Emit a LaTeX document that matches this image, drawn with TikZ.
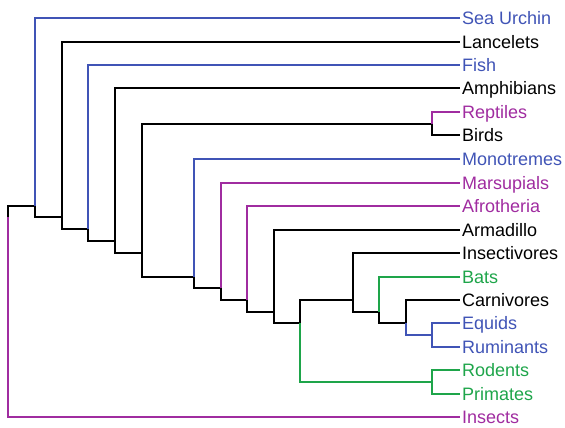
\documentclass[tikz,border=0pt]{standalone}
\usepackage{fontspec}
\setmainfont{Liberation Sans}
\usetikzlibrary{positioning}
\usetikzlibrary{calc}
\definecolor{tblue}{RGB}{64,84,182}
\definecolor{tmag}{RGB}{160,44,160}
\definecolor{tgreen}{RGB}{30,165,74}
\tikzset{leaf/.style={anchor=west,inner xsep=2pt,inner ysep=0pt,text height=13pt,text depth=0pt,font=\fontsize{18}{20}\selectfont}}
\tikzset{br/.style={line width=2pt}}

\begin{document}
\begin{tikzpicture}[x=1pt,y=-1pt]
\useasboundingbox (0,0) rectangle (565,428);
% leaves
\node[leaf,text=tblue] (urchin) at (460,18) {Sea Urchin};
\node[leaf] (lance) at (460,42) {Lancelets};
\node[leaf,text=tblue] (fish) at (460,65) {Fish};
\node[leaf] (amph) at (460,88) {Amphibians};
\node[leaf,text=tmag] (rept) at (460,112) {Reptiles};
\node[leaf] (bird) at (460,135) {Birds};
\node[leaf,text=tblue] (mono) at (460,159) {Monotremes};
\node[leaf,text=tmag] (mars) at (460,183) {Marsupials};
\node[leaf,text=tmag] (afro) at (460,206) {Afrotheria};
\node[leaf] (arma) at (460,230) {Armadillo};
\node[leaf] (insv) at (460,253) {Insectivores};
\node[leaf,text=tgreen] (bat) at (460,277) {Bats};
\node[leaf] (carn) at (460,300) {Carnivores};
\node[leaf,text=tblue] (equ) at (460,323) {Equids};
\node[leaf,text=tblue] (rum) at (460,347) {Ruminants};
\node[leaf,text=tgreen] (rod) at (460,370) {Rodents};
\node[leaf,text=tgreen] (prim) at (460,394) {Primates};
\node[leaf,text=tmag] (ins) at (460,417) {Insects};

% inner nodes
\coordinate (root) at (8,217);
\coordinate (deut) at (35,206);
\coordinate (chor) at (62,217);
\coordinate (vert) at (88,229);
\coordinate (tetr) at (115,241);
\coordinate (amni) at (142,253);
\coordinate (sauri) at (432,124);
\coordinate (mamm) at (194,277);
\coordinate (ther) at (221,288);
\coordinate (euth) at (247,300);
\coordinate (bore) at (274,312);
\coordinate (euar) at (300,323);
\coordinate (laur) at (353,300);
\coordinate (scro) at (379,312);
\coordinate (fere) at (406,323);
\coordinate (ungu) at (432,335);
\coordinate (glir) at (432,382);

\draw[br] (root) |- (deut);
\draw[br,tmag] (root) |- (ins.west);
\draw[br,tblue] (deut) |- (urchin.west);
\draw[br] (deut) |- (chor);
\draw[br] (chor) |- (lance.west);
\draw[br] (chor) |- (vert);
\draw[br,tblue] (vert) |- (fish.west);
\draw[br] (vert) |- (tetr);
\draw[br] (tetr) |- (amph.west);
\draw[br] (tetr) |- (amni);
\draw[br] (amni) |- (sauri);
\draw[br,tmag] (sauri) |- (rept.west);
\draw[br] (sauri) |- (bird.west);
\draw[br] (amni) |- (mamm);
\draw[br,tblue] (mamm) |- (mono.west);
\draw[br] (mamm) |- (ther);
\draw[br,tmag] (ther) |- (mars.west);
\draw[br] (ther) |- (euth);
\draw[br,tmag] (euth) |- (afro.west);
\draw[br] (euth) |- (bore);
\draw[br] (bore) |- (arma.west);
\draw[br] (bore) |- (euar);
\draw[br] (euar) |- (laur);
\draw[br,tgreen] (euar) |- (glir);
\draw[br] (laur) |- (insv.west);
\draw[br] (laur) |- (scro);
\draw[br,tgreen] (scro) |- (bat.west);
\draw[br] (scro) |- (fere);
\draw[br] (fere) |- (carn.west);
\draw[br,tblue] (fere) |- (ungu);
\draw[br,tblue] (ungu) |- (equ.west);
\draw[br,tblue] (ungu) |- (rum.west);
\draw[br,tgreen] (glir) |- (rod.west);
\draw[br,tgreen] (glir) |- (prim.west);
\end{tikzpicture}
\end{document}
